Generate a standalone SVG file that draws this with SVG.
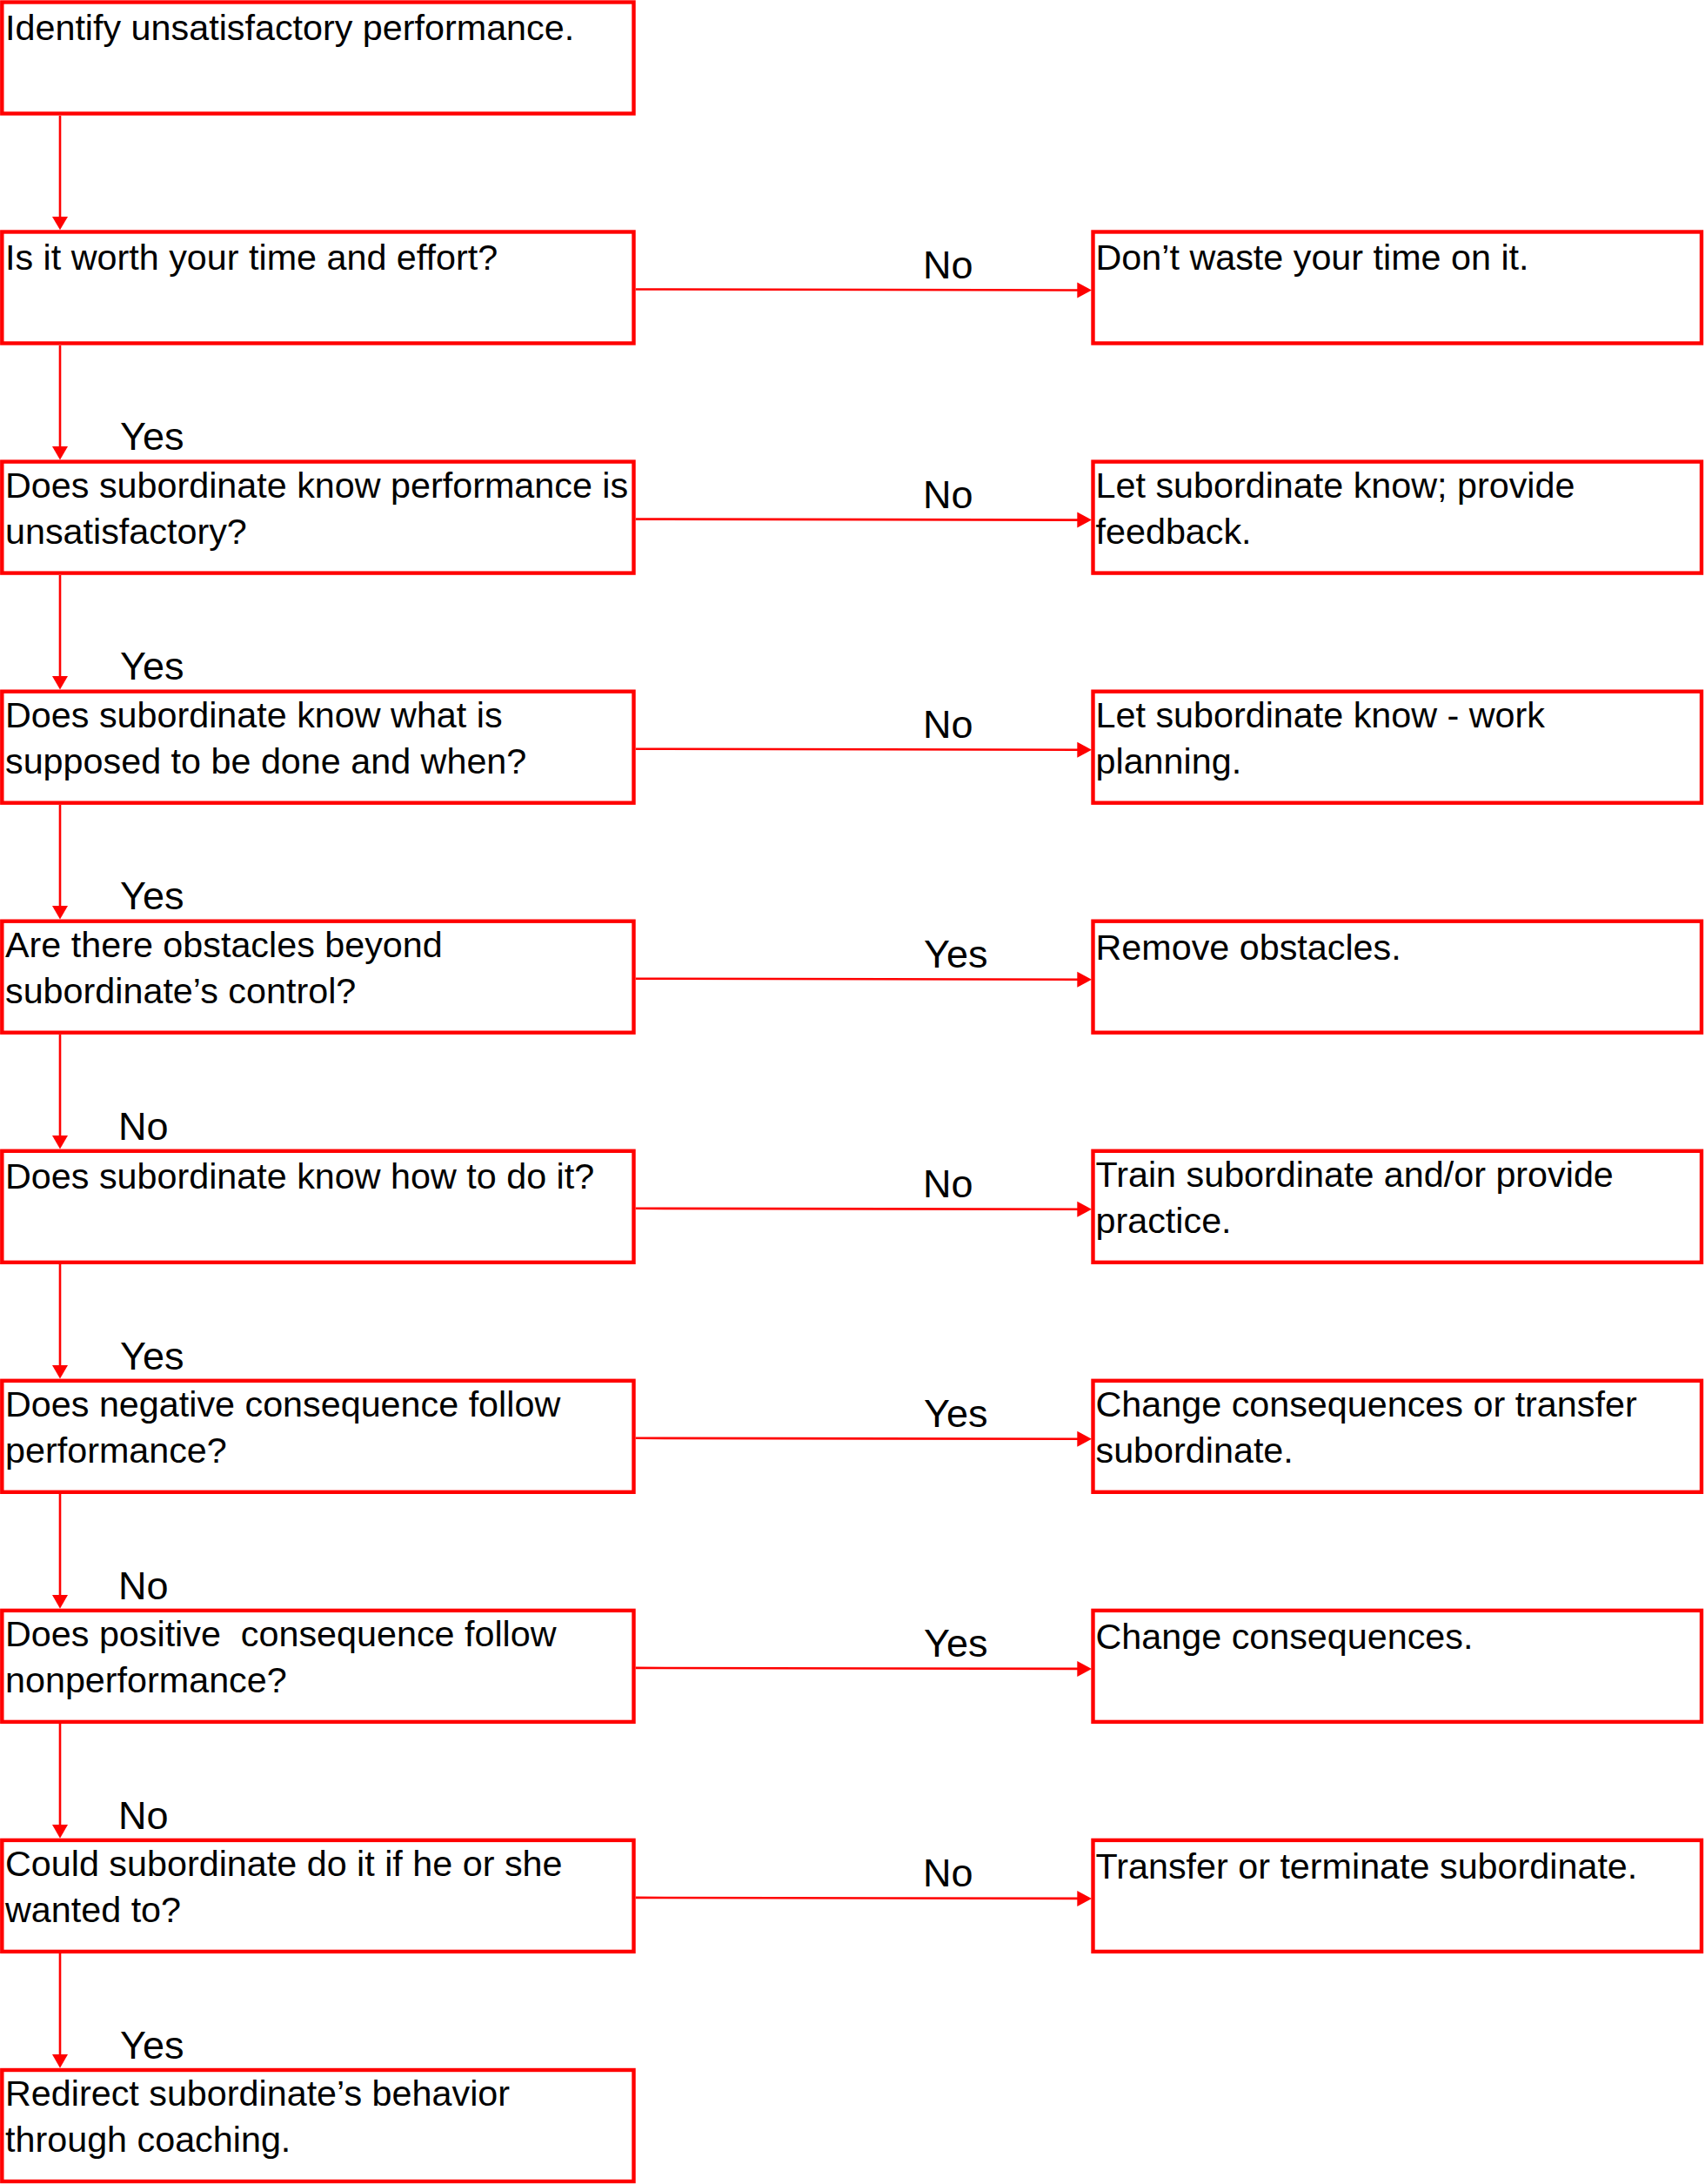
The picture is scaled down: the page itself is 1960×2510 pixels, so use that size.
<svg xmlns="http://www.w3.org/2000/svg" width="1960" height="2510" viewBox="0 0 1960 2510">
<style>
rect.box{fill:#fff;stroke:#ff0000;stroke-width:4.4}
text{font-family:"Liberation Sans",Arial,sans-serif;fill:#000;white-space:pre}
.t{font-size:41.3px}
.lbl{font-size:45px}
.ln{stroke:#ff0000;stroke-width:2.6;fill:none}
.ah{fill:#ff0000}
</style>
<rect width="1960" height="2510" fill="#fff"/>
<g id="connectors">
<line class="ln" x1="69" y1="133" x2="69" y2="250"/><polygon class="ah" points="60,249 78,249 69,264.3"/>
<line class="ln" x1="69" y1="397" x2="69" y2="514"/><polygon class="ah" points="60,513 78,513 69,528.4"/>
<line class="ln" x1="69" y1="661" x2="69" y2="778"/><polygon class="ah" points="60,777 78,777 69,792.5"/>
<line class="ln" x1="69" y1="925" x2="69" y2="1042"/><polygon class="ah" points="60,1041 78,1041 69,1056.5"/>
<line class="ln" x1="69" y1="1189" x2="69" y2="1306"/><polygon class="ah" points="60,1305 78,1305 69,1320.6"/>
<line class="ln" x1="69" y1="1453" x2="69" y2="1570"/><polygon class="ah" points="60,1569 78,1569 69,1584.6"/>
<line class="ln" x1="69" y1="1717" x2="69" y2="1834"/><polygon class="ah" points="60,1833 78,1833 69,1848.7"/>
<line class="ln" x1="69" y1="1981" x2="69" y2="2098"/><polygon class="ah" points="60,2097 78,2097 69,2112.7"/>
<line class="ln" x1="69" y1="2245" x2="69" y2="2362"/><polygon class="ah" points="60,2361 78,2361 69,2376.8"/>
<line class="ln" x1="730.7" y1="332.5" x2="1240" y2="333.5"/><polygon class="ah" points="1238.3,324.5 1238.3,342.5 1255,333.5"/>
<line class="ln" x1="730.7" y1="596.6" x2="1240" y2="597.6"/><polygon class="ah" points="1238.3,588.6 1238.3,606.6 1255,597.6"/>
<line class="ln" x1="730.7" y1="860.7" x2="1240" y2="861.7"/><polygon class="ah" points="1238.3,852.7 1238.3,870.7 1255,861.7"/>
<line class="ln" x1="730.7" y1="1124.7" x2="1240" y2="1125.7"/><polygon class="ah" points="1238.3,1116.7 1238.3,1134.7 1255,1125.7"/>
<line class="ln" x1="730.7" y1="1388.8" x2="1240" y2="1389.8"/><polygon class="ah" points="1238.3,1380.8 1238.3,1398.8 1255,1389.8"/>
<line class="ln" x1="730.7" y1="1652.8" x2="1240" y2="1653.8"/><polygon class="ah" points="1238.3,1644.8 1238.3,1662.8 1255,1653.8"/>
<line class="ln" x1="730.7" y1="1916.9" x2="1240" y2="1917.9"/><polygon class="ah" points="1238.3,1908.9 1238.3,1926.9 1255,1917.9"/>
<line class="ln" x1="730.7" y1="2180.9" x2="1240" y2="2181.9"/><polygon class="ah" points="1238.3,2172.9 1238.3,2190.9 1255,2181.9"/>
<text class="lbl" x="138" y="517.3">Yes</text>
<text class="lbl" x="138" y="781.4">Yes</text>
<text class="lbl" x="138" y="1045.4">Yes</text>
<text class="lbl" x="136" y="1309.5">No</text>
<text class="lbl" x="138" y="1573.5">Yes</text>
<text class="lbl" x="136" y="1837.6">No</text>
<text class="lbl" x="136" y="2101.6">No</text>
<text class="lbl" x="138" y="2365.7">Yes</text>
<text class="lbl" x="1061" y="319.5">No</text>
<text class="lbl" x="1061" y="583.6">No</text>
<text class="lbl" x="1061" y="847.7">No</text>
<text class="lbl" x="1062" y="1111.7">Yes</text>
<text class="lbl" x="1061" y="1375.8">No</text>
<text class="lbl" x="1062" y="1639.8">Yes</text>
<text class="lbl" x="1062" y="1903.9">Yes</text>
<text class="lbl" x="1061" y="2167.9">No</text>
</g>
<g id="n0"><rect class="box" x="2.3" y="2.5" width="726.2" height="128"/><text class="t" x="6" y="46">Identify unsatisfactory performance.</text></g>
<g id="n1"><rect class="box" x="2.3" y="266.5" width="726.2" height="128"/><text class="t" x="6" y="310">Is it worth your time and effort?</text></g>
<g id="n2"><rect class="box" x="2.3" y="530.6" width="726.2" height="128"/><text class="t" x="6" y="571.6">Does subordinate know performance is</text><text class="t" x="6" y="624.6">unsatisfactory?</text></g>
<g id="n3"><rect class="box" x="2.3" y="794.7" width="726.2" height="128"/><text class="t" x="6" y="835.7">Does subordinate know what is</text><text class="t" x="6" y="888.7">supposed to be done and when?</text></g>
<g id="n4"><rect class="box" x="2.3" y="1058.7" width="726.2" height="128"/><text class="t" x="6" y="1099.7">Are there obstacles beyond</text><text class="t" x="6" y="1152.7">subordinate’s control?</text></g>
<g id="n5"><rect class="box" x="2.3" y="1322.8" width="726.2" height="128"/><text class="t" x="6" y="1366.3">Does subordinate know how to do it?</text></g>
<g id="n6"><rect class="box" x="2.3" y="1586.8" width="726.2" height="128"/><text class="t" x="6" y="1627.8">Does negative consequence follow</text><text class="t" x="6" y="1680.8">performance?</text></g>
<g id="n7"><rect class="box" x="2.3" y="1850.9" width="726.2" height="128"/><text class="t" x="6" y="1891.9">Does positive  consequence follow</text><text class="t" x="6" y="1944.9">nonperformance?</text></g>
<g id="n8"><rect class="box" x="2.3" y="2114.9" width="726.2" height="128"/><text class="t" x="6" y="2155.9">Could subordinate do it if he or she</text><text class="t" x="6" y="2208.9">wanted to?</text></g>
<g id="n9"><rect class="box" x="2.3" y="2379" width="726.2" height="128"/><text class="t" x="6" y="2420">Redirect subordinate’s behavior</text><text class="t" x="6" y="2473">through coaching.</text></g>
<g id="r1"><rect class="box" x="1256.5" y="266.5" width="699.5" height="128"/><text class="t" x="1259.5" y="310">Don’t waste your time on it.</text></g>
<g id="r2"><rect class="box" x="1256.5" y="530.6" width="699.5" height="128"/><text class="t" x="1259.5" y="571.6">Let subordinate know; provide</text><text class="t" x="1259.5" y="624.6">feedback.</text></g>
<g id="r3"><rect class="box" x="1256.5" y="794.7" width="699.5" height="128"/><text class="t" x="1259.5" y="835.7">Let subordinate know - work</text><text class="t" x="1259.5" y="888.7">planning.</text></g>
<g id="r4"><rect class="box" x="1256.5" y="1058.7" width="699.5" height="128"/><text class="t" x="1259.5" y="1102.5">Remove obstacles.</text></g>
<g id="r5"><rect class="box" x="1256.5" y="1322.8" width="699.5" height="128"/><text class="t" x="1259.5" y="1363.8">Train subordinate and/or provide</text><text class="t" x="1259.5" y="1416.8">practice.</text></g>
<g id="r6"><rect class="box" x="1256.5" y="1586.8" width="699.5" height="128"/><text class="t" x="1259.5" y="1627.8">Change consequences or transfer</text><text class="t" x="1259.5" y="1680.8">subordinate.</text></g>
<g id="r7"><rect class="box" x="1256.5" y="1850.9" width="699.5" height="128"/><text class="t" x="1259.5" y="1894.5">Change consequences.</text></g>
<g id="r8"><rect class="box" x="1256.5" y="2114.9" width="699.5" height="128"/><text class="t" x="1259.5" y="2158.5">Transfer or terminate subordinate.</text></g>
</svg>
